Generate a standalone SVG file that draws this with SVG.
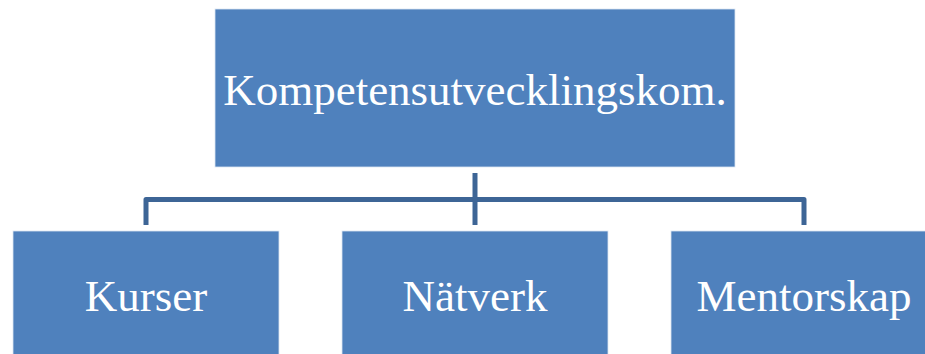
<svg xmlns="http://www.w3.org/2000/svg" width="925" height="354" viewBox="0 0 925 354">
<style>
.box{fill:#4F81BD;stroke:#DCE6F2;stroke-width:0.8}
.lbl{fill:#FFFFFF;font-family:"Liberation Serif","DejaVu Serif",serif;font-size:45px;text-anchor:middle}
.con{fill:none;stroke:#3D6596;stroke-width:5;stroke-linejoin:round}
</style>
<rect width="925" height="354" fill="#FFFFFF"/>
<g id="connectors">
<path class="con" d="M146,225 V199.5 H804 V225"/>
<path class="con" d="M475,173 V225"/>
</g>
<g id="node-top">
<rect class="box" x="215" y="9" width="520" height="158"/>
<text class="lbl" x="475" y="105">Kompetensutvecklingskom.</text>
</g>
<g id="node-kurser">
<rect class="box" x="13" y="231" width="266" height="130"/>
<text class="lbl" x="146" y="311">Kurser</text>
</g>
<g id="node-natverk">
<rect class="box" x="342" y="231" width="266" height="130"/>
<text class="lbl" x="475" y="311">Nätverk</text>
</g>
<g id="node-mentorskap">
<rect class="box" x="671" y="231" width="266" height="130"/>
<text class="lbl" x="804" y="311">Mentorskap</text>
</g>
</svg>
